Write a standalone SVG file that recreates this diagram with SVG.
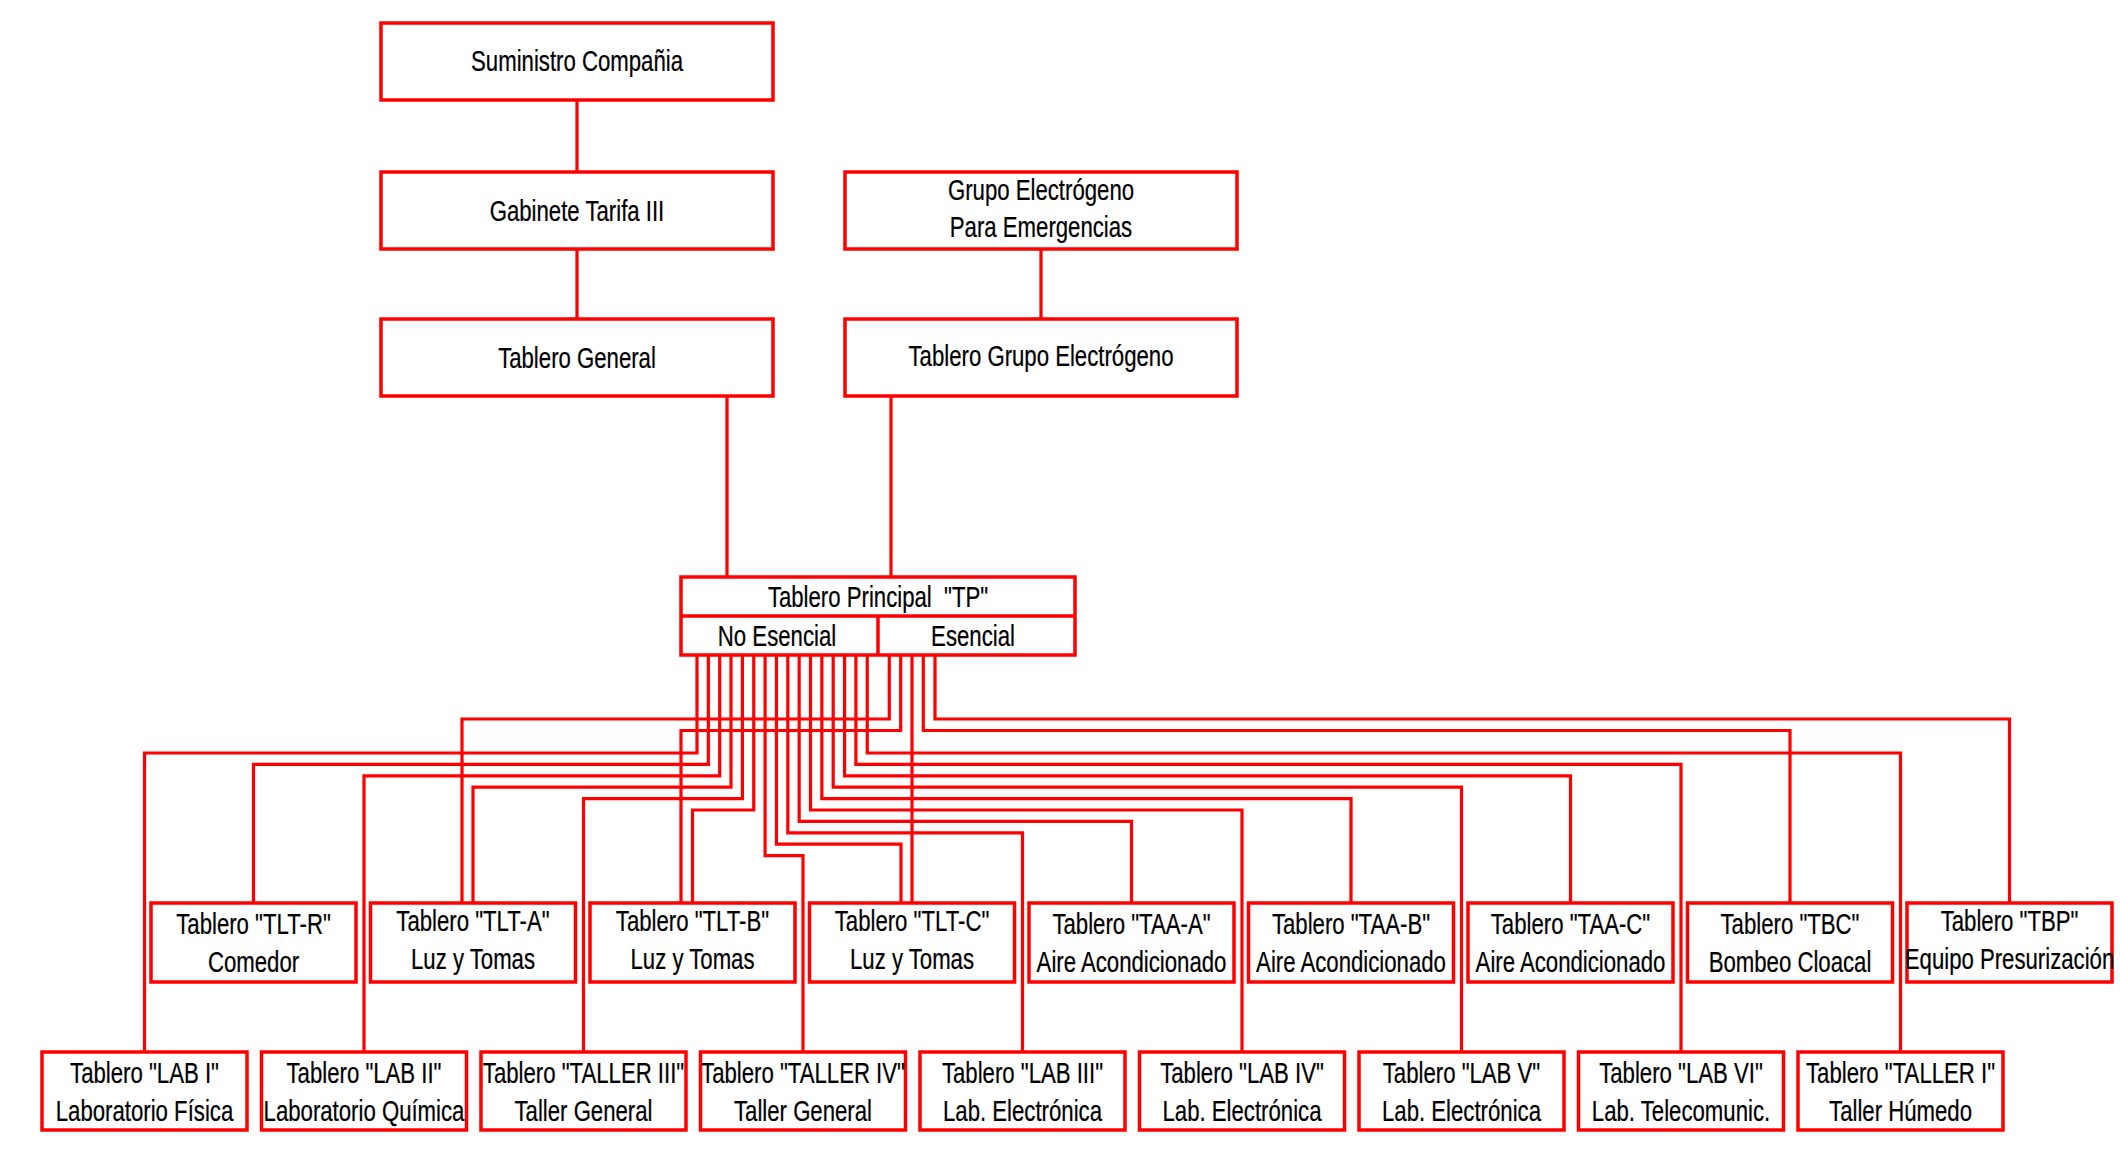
<svg xmlns="http://www.w3.org/2000/svg" width="2120" height="1154" viewBox="0 0 2120 1154">
<style>
.box{fill:#fff;stroke:#ff0000;stroke-width:3.5}
.div{fill:none;stroke:#ff0000;stroke-width:3.5}
.w{fill:none;stroke:#ff0000;stroke-width:3.2;stroke-linejoin:miter}
text{font-family:"Liberation Sans",Arial,sans-serif;font-size:29px;fill:#000;text-anchor:middle;stroke:#000;stroke-width:0.25}
</style>
<rect width="2120" height="1154" fill="#fff"/>
<g id="connectors">
<path class="w" d="M577 100V172M577 249V319M1041 249V319M727 396V577M891 396V577"/>
<path class="w" d="M697 655V753H144.5V1052"/>
<path class="w" d="M708.35 655V764.4H253.5V903"/>
<path class="w" d="M719.7 655V775.8H364V1052"/>
<path class="w" d="M731 655V787.2H473V903"/>
<path class="w" d="M742.4 655V798.6H583.5V1052"/>
<path class="w" d="M753.75 655V810H692.5V903"/>
<path class="w" d="M765.1 655V855.6H803V1052"/>
<path class="w" d="M776.45 655V844.2H901V903"/>
<path class="w" d="M787.8 655V832.8H1022.5V1052"/>
<path class="w" d="M799.15 655V821.4H1131.5V903"/>
<path class="w" d="M810.5 655V810H1242V1052"/>
<path class="w" d="M821.85 655V798.6H1351V903"/>
<path class="w" d="M833.2 655V787.2H1461.5V1052"/>
<path class="w" d="M844.55 655V775.8H1570.5V903"/>
<path class="w" d="M855.9 655V764.4H1681V1052"/>
<path class="w" d="M867.25 655V753H1900.5V1052"/>
<path class="w" d="M889.3 655V719H462V903"/>
<path class="w" d="M900.7 655V730.5H681V903"/>
<path class="w" d="M912 655V903"/>
<path class="w" d="M923.3 655V730.5H1790V903"/>
<path class="w" d="M935 655V719H2009.5V903"/>
</g>
<g id="suministro"><rect class="box" x="381" y="23" width="392" height="77"/><text transform="matrix(0.765 0 0 1 577 71)">Suministro Compañia</text></g>
<g id="gabinete"><rect class="box" x="381" y="172" width="392" height="77"/><text transform="matrix(0.765 0 0 1 577 221)">Gabinete Tarifa III</text></g>
<g id="tablero-general"><rect class="box" x="381" y="319" width="392" height="77"/><text transform="matrix(0.765 0 0 1 577 368)">Tablero General</text></g>
<g id="grupo"><rect class="box" x="845" y="172" width="392" height="77"/><text transform="matrix(0.765 0 0 1 1041 200)">Grupo Electrógeno</text><text transform="matrix(0.765 0 0 1 1041 237)">Para Emergencias</text></g>
<g id="tablero-grupo"><rect class="box" x="845" y="319" width="392" height="77"/><text transform="matrix(0.765 0 0 1 1041 366)">Tablero Grupo Electrógeno</text></g>
<g id="tp"><rect class="box" x="681" y="577" width="394" height="78"/><path class="div" d="M681 616H1075M878 616V655"/><text xml:space="preserve" transform="matrix(0.765 0 0 1 878 607)">Tablero Principal  "TP"</text><text transform="matrix(0.765 0 0 1 777 646)">No Esencial</text><text transform="matrix(0.765 0 0 1 973 646)">Esencial</text></g>
<g id="tlt-r"><rect class="box" x="151" y="903" width="205" height="79"/><text transform="matrix(0.765 0 0 1 253.5 934)">Tablero "TLT-R"</text><text transform="matrix(0.765 0 0 1 253.5 972)">Comedor</text></g>
<g id="tlt-a"><rect class="box" x="370.5" y="903" width="205" height="79"/><text transform="matrix(0.765 0 0 1 473 931)">Tablero "TLT-A"</text><text transform="matrix(0.765 0 0 1 473 969)">Luz y Tomas</text></g>
<g id="tlt-b"><rect class="box" x="590" y="903" width="205" height="79"/><text transform="matrix(0.765 0 0 1 692.5 931)">Tablero "TLT-B"</text><text transform="matrix(0.765 0 0 1 692.5 969)">Luz y Tomas</text></g>
<g id="tlt-c"><rect class="box" x="809.5" y="903" width="205" height="79"/><text transform="matrix(0.765 0 0 1 912 931)">Tablero "TLT-C"</text><text transform="matrix(0.765 0 0 1 912 969)">Luz y Tomas</text></g>
<g id="taa-a"><rect class="box" x="1029" y="903" width="205" height="79"/><text transform="matrix(0.765 0 0 1 1131.5 934)">Tablero "TAA-A"</text><text transform="matrix(0.765 0 0 1 1131.5 972)">Aire Acondicionado</text></g>
<g id="taa-b"><rect class="box" x="1248.5" y="903" width="205" height="79"/><text transform="matrix(0.765 0 0 1 1351 934)">Tablero "TAA-B"</text><text transform="matrix(0.765 0 0 1 1351 972)">Aire Acondicionado</text></g>
<g id="taa-c"><rect class="box" x="1468" y="903" width="205" height="79"/><text transform="matrix(0.765 0 0 1 1570.5 934)">Tablero "TAA-C"</text><text transform="matrix(0.765 0 0 1 1570.5 972)">Aire Acondicionado</text></g>
<g id="tbc"><rect class="box" x="1687.5" y="903" width="205" height="79"/><text transform="matrix(0.765 0 0 1 1790 934)">Tablero "TBC"</text><text transform="matrix(0.765 0 0 1 1790 972)">Bombeo Cloacal</text></g>
<g id="tbp"><rect class="box" x="1907" y="903" width="205" height="79"/><text transform="matrix(0.765 0 0 1 2009.5 931)">Tablero "TBP"</text><text transform="matrix(0.765 0 0 1 2009.5 969)">Equipo Presurización</text></g>
<g id="lab-i"><rect class="box" x="42" y="1052" width="205" height="78"/><text transform="matrix(0.765 0 0 1 144.5 1083)">Tablero "LAB I"</text><text transform="matrix(0.765 0 0 1 144.5 1121)">Laboratorio Física</text></g>
<g id="lab-ii"><rect class="box" x="261.5" y="1052" width="205" height="78"/><text transform="matrix(0.765 0 0 1 364 1083)">Tablero "LAB II"</text><text transform="matrix(0.765 0 0 1 364 1121)">Laboratorio Química</text></g>
<g id="taller-iii"><rect class="box" x="481" y="1052" width="205" height="78"/><text transform="matrix(0.765 0 0 1 583.5 1083)">Tablero "TALLER III"</text><text transform="matrix(0.765 0 0 1 583.5 1121)">Taller General</text></g>
<g id="taller-iv"><rect class="box" x="700.5" y="1052" width="205" height="78"/><text transform="matrix(0.765 0 0 1 803 1083)">Tablero "TALLER IV"</text><text transform="matrix(0.765 0 0 1 803 1121)">Taller General</text></g>
<g id="lab-iii"><rect class="box" x="920" y="1052" width="205" height="78"/><text transform="matrix(0.765 0 0 1 1022.5 1083)">Tablero "LAB III"</text><text transform="matrix(0.765 0 0 1 1022.5 1121)">Lab. Electrónica</text></g>
<g id="lab-iv"><rect class="box" x="1139.5" y="1052" width="205" height="78"/><text transform="matrix(0.765 0 0 1 1242 1083)">Tablero "LAB IV"</text><text transform="matrix(0.765 0 0 1 1242 1121)">Lab. Electrónica</text></g>
<g id="lab-v"><rect class="box" x="1359" y="1052" width="205" height="78"/><text transform="matrix(0.765 0 0 1 1461.5 1083)">Tablero "LAB V"</text><text transform="matrix(0.765 0 0 1 1461.5 1121)">Lab. Electrónica</text></g>
<g id="lab-vi"><rect class="box" x="1578.5" y="1052" width="205" height="78"/><text transform="matrix(0.765 0 0 1 1681 1083)">Tablero "LAB VI"</text><text transform="matrix(0.765 0 0 1 1681 1121)">Lab. Telecomunic.</text></g>
<g id="taller-i"><rect class="box" x="1798" y="1052" width="205" height="78"/><text transform="matrix(0.765 0 0 1 1900.5 1083)">Tablero "TALLER I"</text><text transform="matrix(0.765 0 0 1 1900.5 1121)">Taller Húmedo</text></g>
</svg>
